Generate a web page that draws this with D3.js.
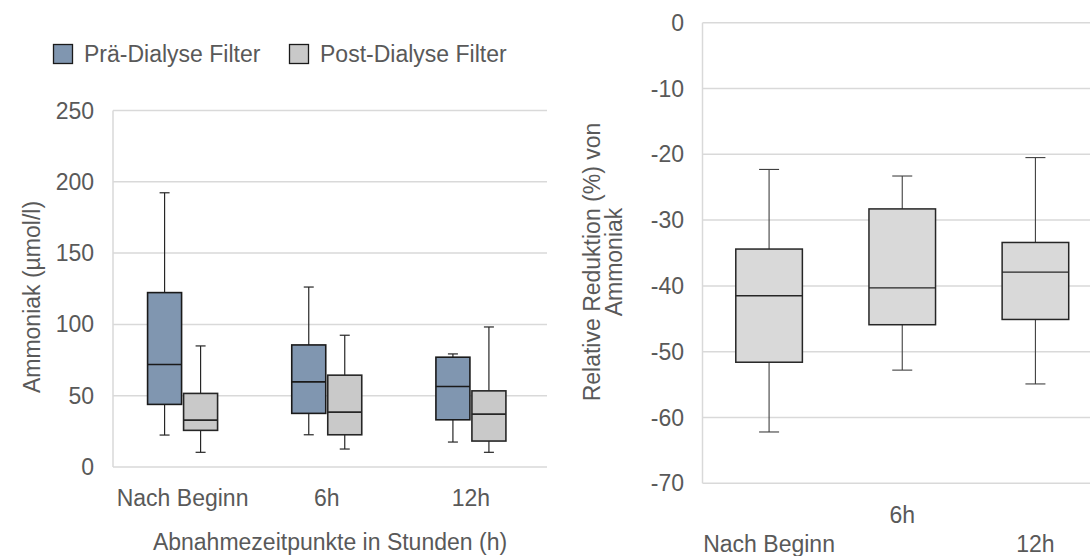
<!DOCTYPE html>
<html>
<head>
<meta charset="utf-8">
<script src="https://cdn.jsdelivr.net/npm/d3@7"></script>
<style>
  html, body { margin: 0; padding: 0; background: #fff; }
  svg { display: block; }
  text { font-family: "Liberation Sans", Arial, sans-serif; fill: #595959; }
</style>
</head>
<body>
<svg id="chart" width="1090" height="556"></svg>
<script>
// Sampling times
const categories = ["Nach Beginn", "6h", "12h"];

// Ammonia (µmol/l), pre-dialysis filter: five-number summaries per time point
const preMin    = [22.4, 22.6, 17.5];
const preQ1     = [43.9, 37.6, 33.1];
const preMedian = [71.9, 59.7, 56.5];
const preQ3     = [122.3, 85.6, 77.0];
const preMax    = [192.3, 126.2, 79.3];

// Ammonia (µmol/l), post-dialysis filter
const postMin    = [10.3, 12.6, 10.3];
const postQ1     = [25.7, 22.6, 18.2];
const postMedian = [32.9, 38.5, 37.1];
const postQ3     = [51.6, 64.4, 53.4];
const postMax    = [84.9, 92.4, 98.2];

// Relative reduction (%) of ammonia
const redMin    = [-62.2, -52.8, -54.9];
const redQ1     = [-51.6, -45.9, -45.1];
const redMedian = [-41.5, -40.3, -37.9];
const redQ3     = [-34.4, -28.3, -33.4];
const redMax    = [-22.3, -23.3, -20.5];

// Axis ticks and labels
const leftTicks  = [0, 50, 100, 150, 200, 250];
const rightTicks = [0, -10, -20, -30, -40, -50, -60, -70];
const seriesNames = ["Prä-Dialyse Filter", "Post-Dialyse Filter"];
const leftYTitle = "Ammoniak (µmol/l)";
const leftXTitle = "Abnahmezeitpunkte in Stunden (h)";
const rightYTitle = ["Relative Reduktion (%) von", "Ammoniak"];

const svg = d3.select("#chart");
const FS = 23;
const gridColor = "#d9d9d9";
const preFill = "#8096b0";
const postFill = "#c9c9c9";
const redFill = "#d9d9d9";

function stats(mins, q1s, meds, q3s, maxs) {
  return categories.map((c, i) => ({ cat: c, min: mins[i], q1: q1s[i], med: meds[i], q3: q3s[i], max: maxs[i] }));
}
const preData = stats(preMin, preQ1, preMedian, preQ3, preMax);
const postData = stats(postMin, postQ1, postMedian, postQ3, postMax);
const redData = stats(redMin, redQ1, redMedian, redQ3, redMax);

// ---------- Left panel: ammonia concentration ----------
const L = { left: 113, right: 547, top: 110.5, bottom: 467 };
const yL = d3.scaleLinear().domain([0, 250]).range([L.bottom, L.top]);
const xL = d3.scaleBand().domain(categories).range([110.5, 543]);

const gL = svg.append("g");

// gridlines
gL.selectAll("line.grid").data(leftTicks).join("line")
  .attr("x1", L.left).attr("x2", L.right)
  .attr("y1", d => yL(d)).attr("y2", d => yL(d))
  .attr("stroke", gridColor).attr("stroke-width", 1.5);
gL.append("line")
  .attr("x1", L.left).attr("x2", L.left)
  .attr("y1", yL(250)).attr("y2", yL(0))
  .attr("stroke", gridColor).attr("stroke-width", 1.5);

// y tick labels
gL.selectAll("text.ytick").data(leftTicks).join("text")
  .attr("x", 94).attr("y", d => yL(d))
  .attr("text-anchor", "end").attr("dominant-baseline", "central")
  .attr("font-size", FS).text(d => d);

// x category labels
gL.selectAll("text.xtick").data(categories).join("text")
  .attr("x", d => xL(d) + xL.bandwidth() / 2).attr("y", 506)
  .attr("text-anchor", "middle").attr("font-size", FS).text(d => d);

// axis titles
gL.append("text")
  .attr("x", 330).attr("y", 550)
  .attr("text-anchor", "middle").attr("font-size", FS).text(leftXTitle);
gL.append("text")
  .attr("transform", `translate(40,297) rotate(-90)`)
  .attr("text-anchor", "middle").attr("font-size", FS).text(leftYTitle);

// box plots
const boxW = 34;
function drawBoxes(g, data, y, xCenter, w, capW, fill, boxStroke, whiskStroke, boxSW, whiskSW, medSW) {
  const grp = g.selectAll(null).data(data).join("g");
  // whisker stems
  grp.append("line")
    .attr("x1", d => xCenter(d)).attr("x2", d => xCenter(d))
    .attr("y1", d => y(d.max)).attr("y2", d => y(d.q3))
    .attr("stroke", whiskStroke).attr("stroke-width", whiskSW);
  grp.append("line")
    .attr("x1", d => xCenter(d)).attr("x2", d => xCenter(d))
    .attr("y1", d => y(d.q1)).attr("y2", d => y(d.min))
    .attr("stroke", whiskStroke).attr("stroke-width", whiskSW);
  // caps
  grp.append("line")
    .attr("x1", d => xCenter(d) - capW / 2).attr("x2", d => xCenter(d) + capW / 2)
    .attr("y1", d => y(d.max)).attr("y2", d => y(d.max))
    .attr("stroke", whiskStroke).attr("stroke-width", whiskSW);
  grp.append("line")
    .attr("x1", d => xCenter(d) - capW / 2).attr("x2", d => xCenter(d) + capW / 2)
    .attr("y1", d => y(d.min)).attr("y2", d => y(d.min))
    .attr("stroke", whiskStroke).attr("stroke-width", whiskSW);
  // box
  grp.append("rect")
    .attr("x", d => xCenter(d) - w / 2).attr("width", w)
    .attr("y", d => y(d.q3)).attr("height", d => y(d.q1) - y(d.q3))
    .attr("fill", fill).attr("stroke", boxStroke).attr("stroke-width", boxSW);
  // median
  grp.append("line")
    .attr("x1", d => xCenter(d) - w / 2).attr("x2", d => xCenter(d) + w / 2)
    .attr("y1", d => y(d.med)).attr("y2", d => y(d.med))
    .attr("stroke", boxStroke).attr("stroke-width", medSW);
}

const mid = d => xL(d.cat) + xL.bandwidth() / 2;
drawBoxes(gL, preData, yL, d => mid(d) - 1 - boxW / 2, boxW, 10, preFill, "#1a1a1a", "#262626", 1.6, 1.2, 1.6);
drawBoxes(gL, postData, yL, d => mid(d) + 1 + boxW / 2, boxW, 10, postFill, "#262626", "#262626", 1.6, 1.2, 1.6);

// legend
const legend = svg.append("g");
const legendItems = [
  { name: seriesNames[0], fill: preFill, x: 53 },
  { name: seriesNames[1], fill: postFill, x: 289 }
];
legend.selectAll("rect").data(legendItems).join("rect")
  .attr("x", d => d.x + 0.5).attr("y", 44.5).attr("width", 19).attr("height", 19)
  .attr("fill", d => d.fill).attr("stroke", "#1a1a1a").attr("stroke-width", 1.3);
legend.selectAll("text").data(legendItems).join("text")
  .attr("x", d => d.x + 31).attr("y", 54)
  .attr("dominant-baseline", "central").attr("font-size", FS).text(d => d.name);

// ---------- Right panel: relative reduction ----------
const R = { left: 702.5, right: 1102, top: 22.7, bottom: 483.3 };
const yR = d3.scaleLinear().domain([-70, 0]).range([R.bottom, R.top]);
const xR = d3.scaleBand().domain(categories).range([R.left, R.right]);

const gR = svg.append("g");
gR.selectAll("line.grid").data(rightTicks).join("line")
  .attr("x1", R.left).attr("x2", R.right)
  .attr("y1", d => yR(d)).attr("y2", d => yR(d))
  .attr("stroke", gridColor).attr("stroke-width", 1.5);
gR.append("line")
  .attr("x1", R.left).attr("x2", R.left)
  .attr("y1", yR(0)).attr("y2", yR(-70))
  .attr("stroke", gridColor).attr("stroke-width", 1.5);

gR.selectAll("text.ytick").data(rightTicks).join("text")
  .attr("x", 684).attr("y", d => yR(d))
  .attr("text-anchor", "end").attr("dominant-baseline", "central")
  .attr("font-size", FS).text(d => d);

// staggered category labels
gR.selectAll("text.xtick").data(categories).join("text")
  .attr("x", d => xR(d) + xR.bandwidth() / 2)
  .attr("y", (d, i) => i % 2 === 1 ? 523 : 552)
  .attr("text-anchor", "middle").attr("font-size", FS).text(d => d);

gR.append("text")
  .attr("transform", `translate(600,262) rotate(-90)`)
  .attr("text-anchor", "middle").attr("font-size", FS)
  .selectAll("tspan").data(rightYTitle).join("tspan")
  .attr("x", 0).attr("dy", (d, i) => i === 0 ? 0 : 22)
  .text(d => d);

drawBoxes(gR, redData, yR, d => xR(d.cat) + xR.bandwidth() / 2, xR.bandwidth() / 2, 20, redFill, "#262626", "#404040", 1.5, 1.1, 1.3);
</script>
</body>
</html>
